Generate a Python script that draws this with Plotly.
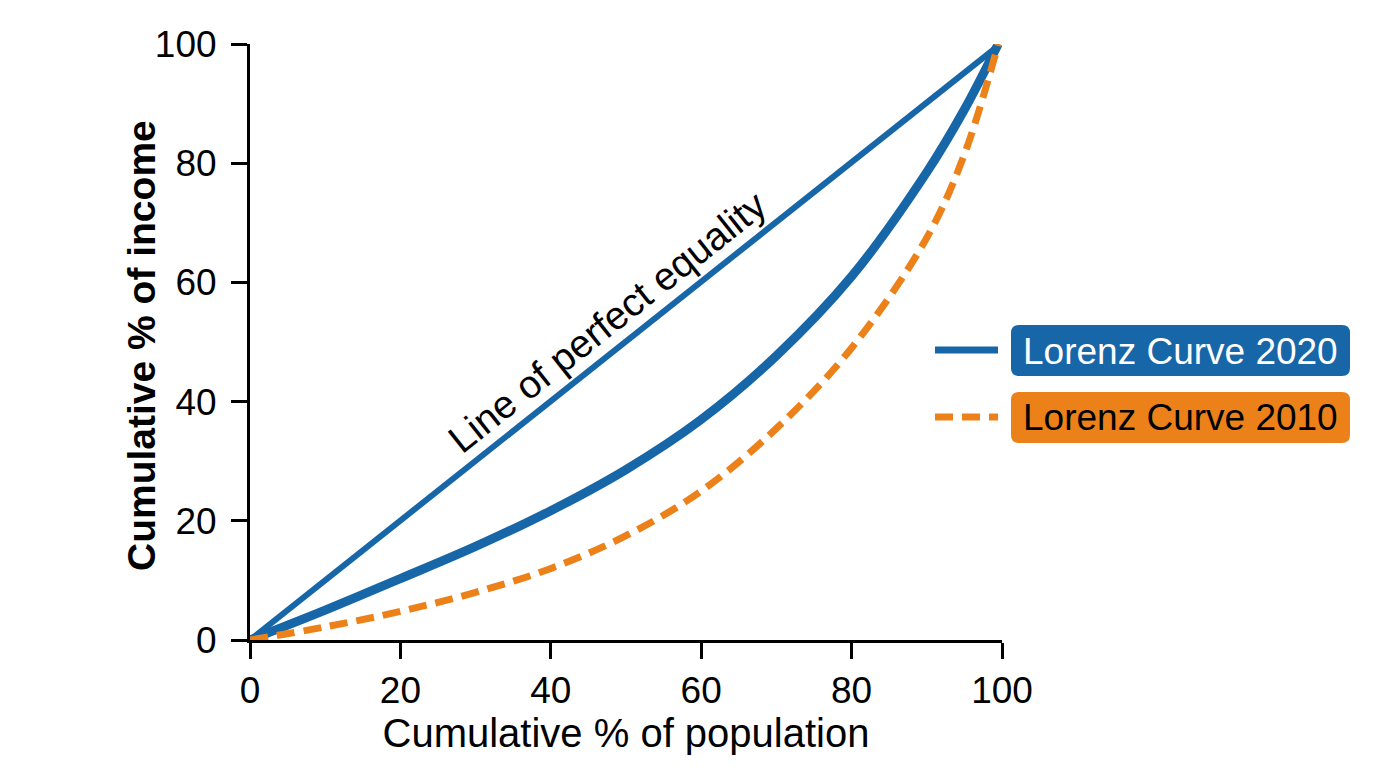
import plotly.graph_objects as go

# cumulative % of population
pop = [0, 10, 20, 30, 40, 50, 60, 70, 80, 90, 95, 99.5]
# cumulative % of income
lorenz_2020 = [0, 5.0, 10.3, 15.7, 21.7, 28.6, 37.0, 47.7, 61.0, 78.5, 89.0, 100]
lorenz_2010 = [0, 2.2, 4.8, 8.0, 12.0, 17.5, 25.0, 35.5, 49.0, 67.5, 81.5, 100]
equality_x = [0, 99.5]
equality_y = [0, 99.7]

x_ticks = [0, 20, 40, 60, 80, 100]
y_ticks = [0, 20, 40, 60, 80, 100]

BLUE = "#1766a8"
ORANGE = "#ec8119"
FONT = "Liberation Sans, Arial, sans-serif"

W, H = 1376, 768
OFF = 8  # page body margin
L, R, T, B = 250, 1002, 44, 640  # plot area in screen pixels


def px(x, y):
    return (x - L) / (R - L), (B - y) / (B - T)


def rounded_box(x0, y0, x1, y1, r=8):
    pts = [
        ("M", x0 + r, y0), ("L", x1 - r, y0), ("Q", x1, y0, x1, y0 + r),
        ("L", x1, y1 - r), ("Q", x1, y1, x1 - r, y1), ("L", x0 + r, y1),
        ("Q", x0, y1, x0, y1 - r), ("L", x0, y0 + r), ("Q", x0, y0, x0 + r, y0),
    ]
    out = []
    for p in pts:
        cmd, vals = p[0], p[1:]
        coords = []
        for i in range(0, len(vals), 2):
            a, b = px(vals[i], vals[i + 1])
            coords.append(f"{a:.5f},{b:.5f}")
        out.append(cmd + " ".join(coords))
    return " ".join(out) + " Z"


fig = go.Figure()
fig.add_trace(go.Scatter(x=equality_x, y=equality_y, mode="lines",
                         line=dict(color=BLUE, width=6), showlegend=False))
fig.add_trace(go.Scatter(x=pop, y=lorenz_2020, mode="lines", line_shape="spline",
                         line=dict(color=BLUE, width=9), name="Lorenz Curve 2020",
                         showlegend=False))
fig.add_trace(go.Scatter(x=pop, y=lorenz_2010, mode="lines", line_shape="spline",
                         line=dict(color=ORANGE, width=7, dash="18px,9px"),
                         name="Lorenz Curve 2010", showlegend=False))

# hand-made legend with coloured label boxes
legend = [("Lorenz Curve 2020", BLUE, "white", 350, "solid"),
          ("Lorenz Curve 2010", ORANGE, "black", 417, "18px,9px")]
shapes = []
annotations = []
for text, col, fcol, yc, dash in legend:
    shapes.append(dict(type="path", xref="paper", yref="paper",
                       path=rounded_box(1011, yc - 25, 1350, yc + 26),
                       fillcolor=col, line=dict(width=0), layer="above"))
    xa, ya = px(935, yc)
    xb, _ = px(998, yc)
    shapes.append(dict(type="line", xref="paper", yref="paper", x0=xa, x1=xb,
                       y0=ya, y1=ya, line=dict(color=col, width=7, dash=dash)))
    tx, ty = px(1180, yc + 1)
    annotations.append(dict(text=text, xref="paper", yref="paper", x=tx, y=ty,
                            showarrow=False, xanchor="center", yanchor="middle",
                            font=dict(family=FONT, size=37, color=fcol)))

annotations.append(dict(text="Line of perfect equality", x=47.6, y=53.4,
                        showarrow=False, textangle=-38.5,
                        font=dict(family=FONT, size=39, color="black")))

# y axis title placed by hand
yt_x, yt_y = px(141, 346)
annotations.append(dict(text="<b>Cumulative % of income</b>", xref="paper", yref="paper",
                        x=yt_x, y=yt_y, showarrow=False, textangle=-90,
                        xanchor="center", yanchor="middle",
                        font=dict(family=FONT, size=39, color="black")))

fig.update_layout(
    width=W, height=H,
    margin=dict(l=L - OFF, r=W - R + OFF, t=T - OFF, b=H - B + OFF, pad=0),
    plot_bgcolor="white", paper_bgcolor="white",
    shapes=shapes, annotations=annotations,
    font=dict(family=FONT, size=37, color="black"),
    xaxis=dict(range=[0, 100], tickvals=x_ticks, showgrid=False, zeroline=False,
               showline=True, linecolor="black", linewidth=3,
               ticks="outside", ticklen=16, tickwidth=3, tickcolor="black",
               tickfont=dict(size=37), ticklabelstandoff=0,
               title=dict(text="Cumulative % of population", font=dict(size=40),
                          standoff=6)),
    yaxis=dict(range=[0, 100], tickvals=y_ticks, showgrid=False, zeroline=False,
               showline=True, linecolor="black", linewidth=3,
               ticks="outside", ticklen=16, tickwidth=3, tickcolor="black",
               tickfont=dict(size=37), ticklabelstandoff=7),
)

fig.write_html("out.html")
